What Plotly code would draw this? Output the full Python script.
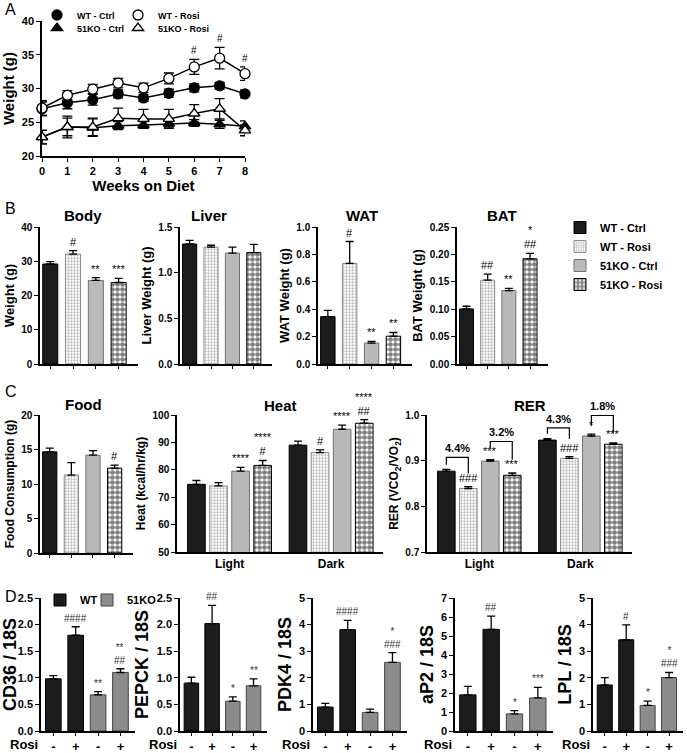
import plotly.graph_objects as go

W, H = 687, 753
FONT = "Liberation Sans"

# ---------------- DATA ----------------
# Panel A: body weight over time
weeks = [0, 1, 2, 3, 4, 5, 6, 7, 8]
wt_ctrl = [27.0, 27.9, 28.35, 29.2, 28.6, 29.3, 30.1, 30.4, 29.2]
wt_ctrl_err = [1.0, 0.9, 0.8, 0.6, 0.5, 0.6, 0.6, 0.5, 0.6]
wt_rosi = [27.1, 29.0, 29.9, 30.8, 30.1, 31.5, 33.2, 34.5, 32.2]
wt_rosi_err = [1.1, 0.7, 0.7, 0.7, 0.7, 0.8, 1.1, 1.6, 1.0]
ko_ctrl = [22.8, 24.3, 24.2, 24.5, 24.6, 24.8, 24.9, 24.7, 24.4]
ko_ctrl_err = [1.0, 1.6, 1.3, 0.6, 0.5, 0.5, 0.5, 0.6, 0.8]
ko_rosi = [22.8, 24.3, 24.3, 25.6, 25.5, 25.5, 26.3, 27.0, 23.8]
ko_rosi_err = [1.0, 1.3, 1.3, 1.5, 1.4, 1.4, 1.3, 1.5, 0.8]
wt_rosi_sig = ["", "", "", "", "", "", "#", "#", "#"]

groups = ["WT - Ctrl", "WT - Rosi", "51KO - Ctrl", "51KO - Rosi"]

# Panel B: tissue weights
body = [29.2, 32.1, 24.4, 23.8]
body_err = [0.7, 1.0, 0.8, 1.2]
body_sig = ["", "#", "**", "***"]
liver = [1.314, 1.28, 1.215, 1.22]
liver_err = [0.04, 0.02, 0.065, 0.09]
liver_sig = ["", "", "", ""]
wat = [0.346, 0.734, 0.153, 0.203]
wat_err = [0.045, 0.16, 0.012, 0.027]
wat_sig = ["", "#", "**", "**"]
bat = [0.1004, 0.153, 0.134, 0.192]
bat_err = [0.005, 0.011, 0.004, 0.010]
bat_sig = ["", "##", "**", "*<br>##"]

# Panel C: food, heat, RER
food = [14.66, 11.3, 14.18, 12.3]
food_err = [0.55, 1.8, 0.65, 0.45]
food_sig = ["", "", "", "#"]
phases = ["Light", "Dark"]
heat = {"Light": [74.7, 74.1, 79.5, 81.6], "Dark": [89.0, 86.3, 94.8, 97.0]}
heat_err = {"Light": [1.4, 1.2, 1.4, 1.8], "Dark": [1.5, 1.0, 1.5, 1.3]}
heat_sig = {"Light": ["", "", "****", "****<br>#"], "Dark": ["", "#", "****", "****<br>##"]}
rer = {"Light": [0.877, 0.839, 0.899, 0.868], "Dark": [0.945, 0.905, 0.954, 0.936]}
rer_err = {"Light": [0.004, 0.004, 0.003, 0.005], "Dark": [0.003, 0.004, 0.004, 0.003]}
rer_sig = {"Light": ["", "###", "***", "***"], "Dark": ["", "###", "*", "***"]}
# brackets: phase, bar i, bar j, left end, top, right end, label
rer_brackets = [
    ("Light", 0, 1, 0.891, 0.907, 0.872, "4.4%"),
    ("Light", 2, 3, 0.928, 0.942, 0.902, "3.2%"),
    ("Dark", 0, 1, 0.959, 0.972, 0.948, "4.3%"),
    ("Dark", 2, 3, 0.976, 0.999, 0.961, "1.8%"),
]

# Panel D: gene expression
rosi_ticks = ["-", "+", "-", "+"]
genotypes = ["WT", "WT", "51KO", "51KO"]
genes = ["CD36 / 18S", "PEPCK / 18S", "PDK4 / 18S", "aP2 / 18S", "LPL / 18S"]
gene_vals = {
    "CD36 / 18S": [0.98, 1.80, 0.68, 1.10],
    "PEPCK / 18S": [0.90, 2.02, 0.56, 0.85],
    "PDK4 / 18S": [0.90, 3.81, 0.70, 2.58],
    "aP2 / 18S": [1.90, 5.35, 0.90, 1.74],
    "LPL / 18S": [1.73, 3.43, 0.96, 2.01],
}
gene_err = {
    "CD36 / 18S": [0.06, 0.16, 0.06, 0.07],
    "PEPCK / 18S": [0.11, 0.34, 0.08, 0.13],
    "PDK4 / 18S": [0.14, 0.35, 0.12, 0.37],
    "aP2 / 18S": [0.45, 0.70, 0.17, 0.56],
    "LPL / 18S": [0.28, 0.56, 0.16, 0.19],
}
gene_sig = {
    "CD36 / 18S": ["", "####", "**", "**<br>##"],
    "PEPCK / 18S": ["", "##", "*", "**"],
    "PDK4 / 18S": ["", "####", "", "*<br>###"],
    "aP2 / 18S": ["", "##", "*", "***"],
    "LPL / 18S": ["", "#", "*", "*<br>###"],
}
gene_ymax = {"CD36 / 18S": 2.5, "PEPCK / 18S": 2.5, "PDK4 / 18S": 5, "aP2 / 18S": 7, "LPL / 18S": 5}
gene_dtick = {"CD36 / 18S": 0.5, "PEPCK / 18S": 0.5, "PDK4 / 18S": 1, "aP2 / 18S": 1, "LPL / 18S": 1}

# ---------------- STYLE ----------------
group_marker = {
    "WT - Ctrl": dict(color="#1c1c1c", line=dict(color="#000000", width=1)),
    "WT - Rosi": dict(color="white", line=dict(color="#8a8a8a", width=1),
                      pattern=dict(shape=".", fgcolor="#7a7a7a", bgcolor="white", size=3, solidity=0.45)),
    "51KO - Ctrl": dict(color="#b9b9b9", line=dict(color="#707070", width=1)),
    "51KO - Rosi": dict(color="white", line=dict(color="#000000", width=1),
                        pattern=dict(shape=".", fgcolor="#000000", bgcolor="white", size=5, solidity=0.7)),
}
geno_color = {"WT": "#1c1c1c", "51KO": "#8c8c8c"}
geno_line = {"WT": "#000000", "51KO": "#444444"}


def fx(p):
    return p / W


def fy(p):
    return 1 - p / H


def tfont(size=10, weight="bold", color="black"):
    return dict(family=FONT, size=size, color=color, weight=weight)


def base_axis():
    return dict(showline=True, linecolor="black", linewidth=1.5, ticks="outside", ticklen=4,
                tickwidth=1.3, tickcolor="black", showgrid=False, zeroline=False,
                tickfont=tfont(10), fixedrange=True, automargin=False)


fig = go.Figure()
axes_layout = {}
annotations = []
shapes = []
count = [0]


def new_axes(x0, x1, y0, y1, xkw, ykw):
    count[0] += 1
    n = count[0]
    s = "" if n == 1 else str(n)
    xa = base_axis()
    xa.update(domain=[fx(x0), fx(x1)], anchor="y" + s)
    xa.update(xkw)
    ya = base_axis()
    ya.update(domain=[fy(y1), fy(y0)], anchor="x" + s)
    ya.update(ykw)
    axes_layout["xaxis" + s] = xa
    axes_layout["yaxis" + s] = ya
    return "x" + s, "y" + s


def sig_annot(xr, yr, x, y, text, size=10, color="black", shift=1):
    if text:
        annotations.append(dict(xref=xr, yref=yr, x=x, y=y, text=text, showarrow=False,
                                yanchor="bottom", yshift=shift, font=tfont(size, "normal", color)))


def paper_text(x, y, text, size, weight="bold", xanchor="center", yanchor="middle"):
    annotations.append(dict(xref="paper", yref="paper", x=fx(x), y=fy(y), text=text, showarrow=False,
                            xanchor=xanchor, yanchor=yanchor, font=tfont(size, weight)))


def err_bar(arr, width=4):
    return dict(type="data", array=arr, arrayminus=[0] * len(arr), symmetric=False,
                color="black", thickness=1.3, width=width)


# ---------------- PANEL A ----------------
xa, ya = new_axes(42, 245, 21, 156,
                  dict(range=[0, 8], tickvals=weeks, tickfont=tfont(11),
                       title=dict(text="Weeks on Diet", font=tfont(15), standoff=4)),
                  dict(range=[20, 40], tickvals=[20, 25, 30, 35, 40], tickfont=tfont(11),
                       title=dict(text="Weight (g)", font=tfont(15), standoff=4)))
series_a = [
    ("WT - Ctrl", wt_ctrl, wt_ctrl_err, "circle", "black", "legend"),
    ("WT - Rosi", wt_rosi, wt_rosi_err, "circle", "white", "legend2"),
    ("51KO - Ctrl", ko_ctrl, ko_ctrl_err, "triangle-up", "black", "legend3"),
    ("51KO - Rosi", ko_rosi, ko_rosi_err, "triangle-up", "white", "legend4"),
]
for name, vals, errs, sym, fill, leg in series_a:
    # connecting line
    fig.add_trace(go.Scatter(
        x=weeks, y=vals, name=name, mode="lines", xaxis=xa, yaxis=ya, showlegend=False,
        line=dict(color="black", width=1.5), cliponaxis=False))
    # markers with SEM error bars
    fig.add_trace(go.Scatter(
        x=weeks, y=vals, name=name, mode="markers", xaxis=xa, yaxis=ya, legend=leg,
        cliponaxis=False,
        marker=dict(symbol=sym, size=10, color=fill, line=dict(color="black", width=1.3)),
        error_y=dict(type="data", array=errs, color="black", thickness=1.3, width=5)))
for w, v, e, s in zip(weeks, wt_rosi, wt_rosi_err, wt_rosi_sig):
    sig_annot(xa, ya, w, v + e, s, size=10)

# ---------------- PANEL B ----------------
pos4 = [0, 1, 2, 3]
b_panels = [
    ("Body", body, body_err, body_sig, 40, 138, [0, 40], 10, "", "Weight (g)", 83),
    ("Liver", liver, liver_err, liver_sig, 180, 272, [0, 1.5], 0.5, ".1f", "Liver Weight (g)", 209),
    ("WAT", wat, wat_err, wat_sig, 318, 412, [0, 1.0], 0.2, ".1f", "WAT Weight (g)", 362),
    ("BAT", bat, bat_err, bat_sig, 457, 548, [0, 0.25], 0.05, ".2f", "BAT Weight (g)", 502),
]
for k, (title, vals, errs, sigs, x0, x1, yr, dt, fmt, ytitle, tx) in enumerate(b_panels):
    xa, ya = new_axes(x0, x1, 227, 364,
                      dict(range=[-0.45, 3.85], tickvals=pos4, showticklabels=False, ticklen=3),
                      dict(range=yr, dtick=dt, tickformat=fmt,
                           title=dict(text=ytitle, font=tfont(13), standoff=4)))
    for i, g in enumerate(groups):
        fig.add_trace(go.Bar(x=[pos4[i]], y=[vals[i]], name=g, xaxis=xa, yaxis=ya, width=0.66,
                             marker=group_marker[g], error_y=err_bar([errs[i]]),
                             showlegend=(k == 0), legend="legend5"))
        sig_annot(xa, ya, pos4[i], vals[i] + errs[i], sigs[i], size=11)
    paper_text(tx, 216, title, 15)

# ---------------- PANEL C ----------------
xa, ya = new_axes(40, 133, 415, 553,
                  dict(range=[-0.45, 3.85], tickvals=pos4, showticklabels=False, ticklen=3),
                  dict(range=[0, 20], dtick=5,
                       title=dict(text="Food Consumption (g)", font=tfont(12), standoff=4)))
for i, g in enumerate(groups):
    fig.add_trace(go.Bar(x=[pos4[i]], y=[food[i]], name=g, xaxis=xa, yaxis=ya, width=0.66,
                         marker=group_marker[g], error_y=err_bar([food_err[i]]), showlegend=False))
    sig_annot(xa, ya, pos4[i], food[i] + food_err[i], food_sig[i], size=11)
paper_text(83, 404, "Food", 15)

phase_start = {"Light": 0.0, "Dark": 4.6}
for (vals, errs, sigs, x0, x1, yr, dt, fmt, ytitle, title, tx) in [
    (heat, heat_err, heat_sig, 177, 383, [50, 100], 10, "", "Heat (kcal/hr/kg)", "Heat", 280),
    (rer, rer_err, rer_sig, 427, 632, [0.7, 1.0], 0.1, ".1f",
     "RER (VCO<sub>2</sub>/VO<sub>2</sub>)", "RER", 530),
]:
    xa, ya = new_axes(x0, x1, 415, 552,
                      dict(range=[-0.88, 8.45], tickvals=[phase_start[p] + 1.5 for p in phases],
                           ticktext=phases, ticks="", tickfont=tfont(12)),
                      dict(range=yr, dtick=dt, tickformat=fmt,
                           title=dict(text=ytitle, font=tfont(12), standoff=4)))
    for i, g in enumerate(groups):
        xs = [phase_start[p] + i for p in phases]
        ys = [vals[p][i] for p in phases]
        es = [errs[p][i] for p in phases]
        fig.add_trace(go.Bar(x=xs, y=ys, name=g, xaxis=xa, yaxis=ya, width=0.8,
                             marker=group_marker[g], error_y=err_bar(es), showlegend=False))
        for p in phases:
            sig_annot(xa, ya, phase_start[p] + i, vals[p][i] + errs[p][i], sigs[p][i], size=11)
    paper_text(tx, 405, title, 15)
    if title == "RER":
        for (p, i, j, yl, yt, yrr, lab) in rer_brackets:
            xi, xj = phase_start[p] + i, phase_start[p] + j
            shapes.append(dict(type="path", xref=xa, yref=ya,
                               path=f"M {xi},{yl} L {xi},{yt} L {xj},{yt} L {xj},{yrr}",
                               line=dict(color="black", width=1.2)))
            annotations.append(dict(xref=xa, yref=ya, x=(xi + xj) / 2, y=yt, text=lab,
                                    showarrow=False, yanchor="bottom", yshift=1,
                                    font=tfont(11)))

# ---------------- PANEL D ----------------
d_pos = [(41, 135), (180, 267), (313, 407), (455, 553), (593, 683)]
for k, gname in enumerate(genes):
    x0, x1 = d_pos[k]
    vals, errs, sigs = gene_vals[gname], gene_err[gname], gene_sig[gname]
    xa, ya = new_axes(x0, x1, 598, 731,
                      dict(range=[-0.55, 3.65], tickvals=pos4, ticktext=rosi_ticks, ticklen=3,
                           tickfont=tfont(13)),
                      dict(range=[0, gene_ymax[gname]], dtick=gene_dtick[gname],
                           tickformat=".1f" if gene_dtick[gname] < 1 else "d", tickfont=tfont(11),
                           title=dict(text=gname, font=tfont(18), standoff=3)))
    for geno, leg in [("WT", "legend6"), ("51KO", "legend7")]:
        idx = [i for i in range(4) if genotypes[i] == geno]
        fig.add_trace(go.Bar(x=[pos4[i] for i in idx], y=[vals[i] for i in idx], name=geno,
                             xaxis=xa, yaxis=ya, width=0.7,
                             marker=dict(color=geno_color[geno], line=dict(color=geno_line[geno], width=1)),
                             error_y=err_bar([errs[i] for i in idx]),
                             showlegend=(k == 0), legend=leg))
    for i in range(4):
        sig_annot(xa, ya, pos4[i], vals[i] + errs[i], sigs[i], size=10, color="#333333")
    annotations.append(dict(xref=xa + " domain", yref=ya + " domain", x=0, y=0, text="Rosi",
                            showarrow=False, xanchor="right", yanchor="top", xshift=-1, yshift=-4,
                            font=tfont(13)))

# ---------------- PANEL LETTERS ----------------
for lab, yy in [("A", 10), ("B", 209), ("C", 391), ("D", 596)]:
    paper_text(3, yy, lab, 16, weight="normal", xanchor="left")

leg_common = dict(bgcolor="rgba(0,0,0,0)", borderwidth=0, itemclick=False, itemdoubleclick=False)


def leg(x, y, size, **kw):
    d = dict(x=fx(x), y=fy(y), xanchor="left", yanchor="middle", orientation="h",
             font=tfont(size), **leg_common)
    d.update(kw)
    return d


fig.update_layout(
    width=W, height=H, margin=dict(l=0, r=0, t=0, b=0, autoexpand=False),
    paper_bgcolor="white", plot_bgcolor="white",
    font=dict(family=FONT, color="black"),
    barmode="overlay", showlegend=True,
    legend=leg(37, 15, 9),
    legend2=leg(118, 15, 9),
    legend3=leg(37, 28, 9),
    legend4=leg(118, 28, 9),
    legend5=leg(560, 256, 11, orientation="v", tracegroupgap=0),
    legend6=leg(40, 600, 11),
    legend7=leg(87, 600, 11),
    annotations=annotations, shapes=shapes,
    **axes_layout,
)

fig.write_html("out.html", config={"displayModeBar": False},
               post_script="document.body.style.margin='0';document.body.style.overflow='hidden';")
